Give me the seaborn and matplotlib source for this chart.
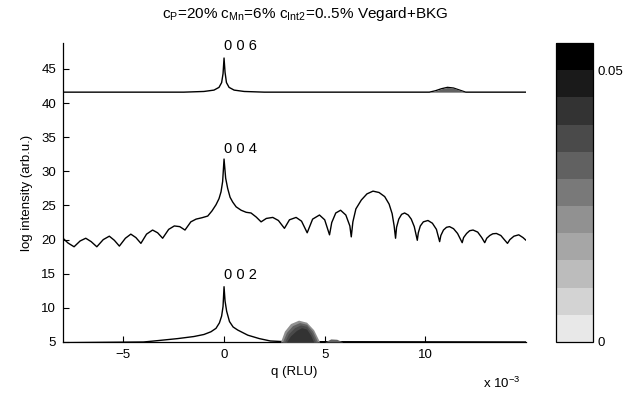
import numpy as np
import pandas as pd
import matplotlib
matplotlib.use('Agg')
import matplotlib.pyplot as plt
import seaborn as sns
from matplotlib.colors import ListedColormap, BoundaryNorm
from matplotlib.cm import ScalarMappable

# q in units of 1e-3 RLU
x006 = [-8, -2, -1, -0.5, -0.25, -0.12, -0.05, 0, 0.05, 0.12, 0.25, 0.5, 1, 2,
        10.2, 10.5, 10.8, 11.1, 11.4, 11.7, 12.0, 15]
y006 = [41.6, 41.6, 41.7, 41.9, 42.3, 43.0, 44.3, 46.6, 44.5, 43.0, 42.3, 41.9, 41.7, 41.6,
        41.6, 41.8, 42.1, 42.3, 42.2, 41.9, 41.6, 41.6]

x004 = [-8.0, -7.75, -7.45, -7.15, -6.87, -6.6, -6.32, -6.0, -5.7, -5.45, -5.2, -4.9,
        -4.63, -4.38, -4.13, -3.85, -3.55, -3.3, -3.05, -2.75, -2.47, -2.2, -1.94, -1.65,
        -1.39, -1.1, -0.81, -0.6, -0.4, -0.25, -0.15, -0.07, 0.0, 0.08, 0.18, 0.3, 0.43,
        0.6, 0.85, 1.1, 1.34, 1.6, 1.84, 2.1, 2.42, 2.7, 3.0, 3.25, 3.58, 3.85, 4.13, 4.4,
        4.74, 5.0, 5.24, 5.35, 5.55, 5.79, 6.05, 6.25, 6.32, 6.4, 6.55, 6.82, 7.1, 7.4,
        7.7, 7.98, 8.2, 8.35, 8.45, 8.52, 8.57, 8.68, 8.82, 8.97, 9.15, 9.3, 9.45, 9.6,
        9.65, 9.75, 9.9, 10.13, 10.35, 10.55, 10.71, 10.77, 10.9, 11.05, 11.2, 11.4,
        11.6, 11.83, 11.9, 12.05, 12.2, 12.37, 12.6, 12.8, 12.95, 13.05, 13.2, 13.35,
        13.53, 13.75, 13.95, 14.08, 14.2, 14.4, 14.64, 14.85, 15.0]
y004 = [20.2, 19.5, 18.95, 19.8, 20.2, 19.7, 18.95, 20.0, 20.5, 19.9, 19.05, 20.2,
        20.8, 20.3, 19.45, 20.8, 21.4, 21.0, 20.2, 21.5, 22.0, 21.9, 21.4, 22.6,
        23.0, 23.2, 23.45, 24.2, 25.1, 26.0, 27.0, 28.5, 31.8, 29.0, 27.5, 26.2, 25.5,
        24.8, 24.3, 24.0, 23.9, 23.3, 22.6, 23.1, 23.25, 22.8, 21.65, 22.9, 23.25, 22.7,
        21.0, 23.0, 23.6, 22.9, 20.7, 22.5, 23.9, 24.3, 23.6, 22.0, 20.4, 22.6, 24.5,
        25.8, 26.7, 27.1, 26.9, 26.3, 25.2, 23.8, 22.0, 20.2, 21.8, 23.0, 23.7, 23.9,
        23.6, 23.0, 21.9, 19.9, 21.0, 22.0, 22.6, 22.8, 22.4, 21.5, 19.7, 20.6, 21.4,
        21.8, 21.9, 21.6, 20.9, 19.55, 20.3, 20.9, 21.3, 21.4, 21.1, 20.3, 19.55, 20.2,
        20.6, 20.85, 20.9, 20.6, 19.9, 19.45, 20.0, 20.5, 20.7, 20.3, 19.9]

x002 = [-8, -4, -3.3, -2.3, -1.5, -1.0, -0.65, -0.4, -0.23, -0.12, -0.05, 0, 0.05,
        0.13, 0.27, 0.45, 0.68, 1.18, 1.75, 2.3, 3.0, 15]
y002 = [4.9, 5.0, 5.2, 5.5, 5.8, 6.1, 6.5, 7.0, 7.8, 8.8, 10.2, 13.1, 11.0,
        9.5, 8.0, 7.2, 6.75, 6.0, 5.5, 5.15, 5.05, 5.0]

peak_labels = ['0 0 2', '0 0 4', '0 0 6']
label_y = [14.8, 33.3, 48.4]

# contour blobs (gray-level fills)
blob_x1 = [2.8, 3.0, 3.3, 3.7, 4.1, 4.45, 4.75]
blob_y1 = [5.0, 6.6, 7.7, 8.2, 7.9, 6.8, 5.0]
blob_x2 = [2.9, 3.1, 3.4, 3.75, 4.1, 4.4, 4.65]
blob_y2 = [5.0, 6.4, 7.4, 7.85, 7.6, 6.6, 5.0]
blob_x3 = [3.0, 3.2, 3.5, 3.8, 4.1, 4.35, 4.55]
blob_y3 = [5.0, 6.2, 7.1, 7.5, 7.3, 6.3, 5.0]
blob_x4 = [3.1, 3.3, 3.6, 3.85, 4.1, 4.3, 4.45]
blob_y4 = [5.0, 5.9, 6.7, 7.1, 6.9, 6.0, 5.0]
small_x = [5.0, 5.3, 5.6, 5.9]
small_y = [5.0, 5.45, 5.4, 5.0]
bump_x = [10.2, 10.5, 10.8, 11.1, 11.4, 11.7, 12.0]
bump_y = [41.6, 41.8, 42.1, 42.3, 42.2, 41.9, 41.6]

levels = [0, 0.005, 0.01, 0.015, 0.02, 0.025, 0.03, 0.035, 0.04, 0.045, 0.05, 0.055]
grays = ['#e8e8e8', '#d3d3d3', '#bcbcbc', '#a6a6a6', '#919191', '#797979',
         '#616161', '#4a4a4a', '#333333', '#1a1a1a', '#000000']

sns.set_style('ticks')
plt.rcParams['font.family'] = ['Liberation Sans', 'DejaVu Sans']
plt.rcParams['mathtext.default'] = 'regular'
plt.rcParams['font.size'] = 9
for key in ['text.color', 'axes.labelcolor', 'xtick.color', 'ytick.color']:
    plt.rcParams[key] = 'black'

fig = plt.figure(figsize=(6.4, 3.96), dpi=100)
ax = fig.add_axes([63/640, 54/396, 463/640, 299/396])

ax.fill_between(blob_x1, 5, blob_y1, color=grays[4], lw=0, zorder=3)
ax.fill_between(blob_x2, 5, blob_y2, color=grays[6], lw=0, zorder=3)
ax.fill_between(blob_x3, 5, blob_y3, color=grays[7], lw=0, zorder=3)
ax.fill_between(blob_x4, 5, blob_y4, color=grays[8], lw=0, zorder=3)
ax.fill_between(small_x, 5, small_y, color=grays[6], lw=0, zorder=3)
ax.fill_between(bump_x, 41.6, bump_y, color=grays[6], lw=0, zorder=3)

for xs, ys in [(x002, y002), (x004, y004), (x006, y006)]:
    df = pd.DataFrame({'q': xs, 'I': ys})
    sns.lineplot(data=df, x='q', y='I', ax=ax, color='black', lw=1.0,
                 estimator=None, sort=False, zorder=2)

for lab, ly in zip(peak_labels, label_y):
    ax.text(0.0, ly, lab, ha='left', va='center', fontsize=10.5)

ax.set_xlim(-8, 15)
ax.set_ylim(5, 48.8)
ax.set_xticks([-5, 0, 5, 10])
ax.set_yticks([5, 10, 15, 20, 25, 30, 35, 40, 45])
ax.tick_params(direction='in', length=4, width=0.8, labelsize=9.5, pad=5)
sns.despine(ax=ax)
for s in ['left', 'bottom']:
    ax.spines[s].set_linewidth(0.9)
    ax.spines[s].set_color('black')
ax.set_xlabel('q (RLU)', fontsize=9.5, labelpad=4)
ax.set_ylabel('log intensity (arb.u.)', fontsize=9.5, labelpad=6)

fig.text(305/640, 1 - 14/396,
         r'c$_{P}$=20% c$_{Mn}$=6% c$_{Int2}$=0..5% Vegard+BKG',
         ha='center', va='center', fontsize=11)
fig.text(483/640, 1 - 383/396, r'x 10$^{-3}$', ha='left', va='center', fontsize=9.5)

cax = fig.add_axes([556/640, 54/396, 37/640, 299/396])
cmap = ListedColormap(grays)
norm = BoundaryNorm(levels, cmap.N)
sm = ScalarMappable(norm=norm, cmap=cmap)
cb = fig.colorbar(sm, cax=cax, ticks=[0, 0.05])
cb.ax.minorticks_off()
cb.ax.set_yticklabels(['0', '0.05'])
cb.ax.tick_params(which='both', length=0, labelsize=9.5, pad=3)
cb.outline.set_linewidth(0.9)
cb.outline.set_edgecolor('black')

fig.savefig('out.png', dpi=100)
